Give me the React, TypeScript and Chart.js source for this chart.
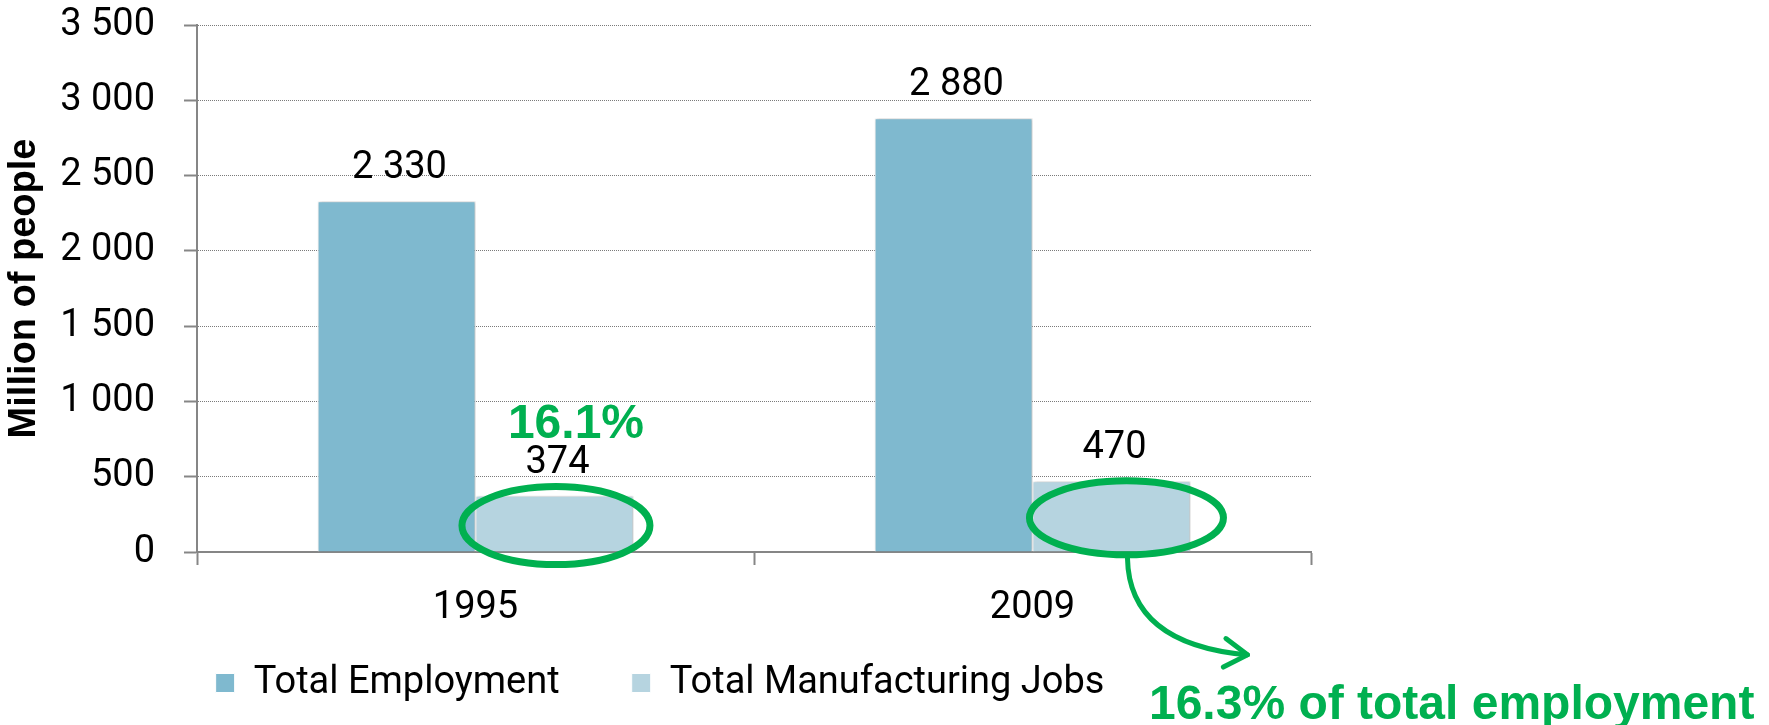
import React, { useEffect, useRef } from 'react';
import { Chart, registerables } from 'chart.js';

Chart.register(...registerables);

// ---- data ----
const categories = ['1995', '2009'];
const seriesLabels = ['Total Employment', 'Total Manufacturing Jobs'];
const totalEmployment = [2330, 2880];
const manufacturingJobs = [374, 470];
const yTickValues = [0, 500, 1000, 1500, 2000, 2500, 3000, 3500];
const yAxisTitle = 'Million of people';
const calloutSuffix = ' of total employment';

// ---- styles ----
const COLOR_TOTAL = '#7FB9CF';
const COLOR_MFG = '#B6D4E0';
const GREEN = '#00B050';
const AXIS_GREY = '#868686';
const FONT_MAIN = 'Roboto';
const FONT_BOLD = '"Liberation Sans", Arial, sans-serif';

// annotation layout (ellipse offsets relative to manufacturing bars)
const ellipseLayout = [
  { dx: 1.5, dy: 2, rx: 94, ry: 39 },
  { dx: 15, dy: 1.5, rx: 97, ry: 37 },
];

const fmt = (v: number) => String(v).replace(/\B(?=(\d{3})+(?!\d))/g, ' ');

const shadowPlugin = {
  id: 'barShadow',
  beforeDatasetsDraw(chart: any) {
    const ctx = chart.ctx;
    ctx.save();
    ctx.shadowColor = 'rgba(0,0,0,0.28)';
    ctx.shadowBlur = 4;
    ctx.shadowOffsetX = 1.5;
    ctx.shadowOffsetY = 0;
  },
  afterDatasetsDraw(chart: any) {
    chart.ctx.restore();
  },
};

const annotationPlugin = {
  id: 'annotations',
  afterDraw(chart: any) {
    const ctx = chart.ctx;
    const metas = [chart.getDatasetMeta(0), chart.getDatasetMeta(1)];
    ctx.save();
    // value labels
    ctx.font = `38px ${FONT_MAIN}`;
    ctx.fillStyle = '#000';
    ctx.textAlign = 'center';
    ctx.textBaseline = 'alphabetic';
    metas.forEach((meta: any, di: number) => {
      meta.data.forEach((bar: any, i: number) => {
        const v = chart.data.datasets[di].data[i] as number;
        ctx.fillText(fmt(v), bar.x + 3, bar.y - 23);
      });
    });

    // ellipses + shares
    const mfgMeta: any = metas[1];
    mfgMeta.data.forEach((bar: any, i: number) => {
      const L = ellipseLayout[i];
      const cx = bar.x + L.dx;
      const cy = (bar.y + bar.base) / 2 + L.dy;
      ctx.beginPath();
      ctx.ellipse(cx, cy, L.rx, L.ry, 0, 0, Math.PI * 2);
      ctx.lineWidth = 7;
      ctx.strokeStyle = GREEN;
      ctx.stroke();

      const share = ((manufacturingJobs[i] / totalEmployment[i]) * 100).toFixed(1) + '%';
      ctx.fillStyle = GREEN;
      ctx.font = `bold 48px ${FONT_BOLD}`;
      if (i === 0) {
        ctx.textAlign = 'center';
        ctx.fillText(share, bar.x + 21.5, bar.y - 58);
      } else {
        // curved arrow
        const sx = cx + 1;
        const sy = cy + L.ry + 3;
        const ex = sx + 120;
        const ey = sy + 97;
        const c1x = sx + 1, c1y = sy + 58;
        const c2x = sx + 42, c2y = sy + 90;
        ctx.beginPath();
        ctx.moveTo(sx, sy);
        ctx.bezierCurveTo(c1x, c1y, c2x, c2y, ex, ey);
        ctx.lineWidth = 5;
        ctx.strokeStyle = GREEN;
        ctx.lineCap = 'round';
        ctx.lineJoin = 'round';
        ctx.stroke();
        const th = Math.atan2(ey - c2y, ex - c2x);
        const back = th + Math.PI;
        const a = (32 * Math.PI) / 180;
        const len = 27;
        ctx.beginPath();
        ctx.moveTo(ex + len * Math.cos(back - a), ey + len * Math.sin(back - a));
        ctx.lineTo(ex, ey);
        ctx.lineTo(ex + len * Math.cos(back + a), ey + len * Math.sin(back + a));
        ctx.stroke();
        ctx.textAlign = 'left';
        ctx.fillText(share + calloutSuffix, ex - 98.5, ey + 64.5);
      }
    });
    ctx.restore();
  },
};

export default function App() {
  const ref = useRef<HTMLCanvasElement | null>(null);

  useEffect(() => {
    if (!ref.current) return;
    let alive = true;
    const chart = new Chart(ref.current, {
      type: 'bar',
      data: {
        labels: categories,
        datasets: [
          {
            label: seriesLabels[0],
            data: totalEmployment,
            backgroundColor: COLOR_TOTAL,
            borderColor: '#ffffff',
            borderWidth: 1,
            categoryPercentage: 0.567,
            barPercentage: 1,
          },
          {
            label: seriesLabels[1],
            data: manufacturingJobs,
            backgroundColor: COLOR_MFG,
            borderColor: '#ffffff',
            borderWidth: 1,
            categoryPercentage: 0.567,
            barPercentage: 1,
          },
        ],
      },
      options: {
        animation: false,
        responsive: false,
        devicePixelRatio: 1,
        layout: { padding: { left: 9, right: 458, top: 25, bottom: 13 } },
        plugins: {
          legend: {
            position: 'bottom',
            labels: {
              font: { family: FONT_MAIN, size: 38 },
              color: '#000',
              boxWidth: 19,
              boxHeight: 19,
              padding: 72,
            },
          },
          tooltip: { enabled: false },
        },
        scales: {
          x: {
            grid: {
              drawOnChartArea: false,
              drawTicks: true,
              tickLength: 13,
              tickColor: AXIS_GREY,
              tickWidth: 2,
              offset: true,
            },
            border: { display: true, color: AXIS_GREY, width: 2 },
            ticks: { font: { family: FONT_MAIN, size: 38 }, color: '#000', padding: 21 },
            afterFit: (s: any) => {
              s.height = 40;
              s.paddingTop = 0;
              s.paddingBottom = 0;
              // let category labels extend below the (compact) axis box
              s._computeLabelArea = () => undefined;
            },
          },
          y: {
            min: 0,
            max: 3500,
            afterBuildTicks: (s: any) => {
              s.ticks = yTickValues.map((v) => ({ value: v }));
            },
            grid: {
              color: '#7a7a7a',
              lineWidth: 1,
              tickLength: 13,
              tickColor: AXIS_GREY,
              tickWidth: 2,
              tickBorderDash: [],
            },
            border: { display: true, color: AXIS_GREY, width: 2, dash: [1, 1] },
            ticks: {
              font: { family: FONT_MAIN, size: 38, lineHeight: 1 },
              color: '#000',
              padding: 29,
              callback: (v: any) => fmt(Number(v)),
            },
            title: {
              display: true,
              text: yAxisTitle,
              font: { family: FONT_BOLD, size: 38, weight: 'bold', lineHeight: 0.8 },
              color: '#000',
              padding: 0,
            },
            afterFit: (s: any) => {
              s.width = 188;
              s.paddingTop = 0;
              s.paddingBottom = 0;
            },
          },
        },
      } as any,
      plugins: [shadowPlugin, annotationPlugin],
    });

    const fonts: any = (document as any).fonts;
    if (fonts && fonts.load) {
      Promise.all([
        fonts.load(`38px ${FONT_MAIN}`),
        fonts.load(`bold 48px ${FONT_BOLD}`),
      ])
        .then(() => {
          if (alive) chart.update();
        })
        .catch(() => {});
    }

    return () => {
      alive = false;
      chart.destroy();
    };
  }, []);

  return (
    <div style={{ position: 'fixed', left: 0, top: 0, width: 1769, height: 725, background: '#fff' }}>
      <canvas ref={ref} width={1769} height={725} style={{ display: 'block' }} />
    </div>
  );
}
